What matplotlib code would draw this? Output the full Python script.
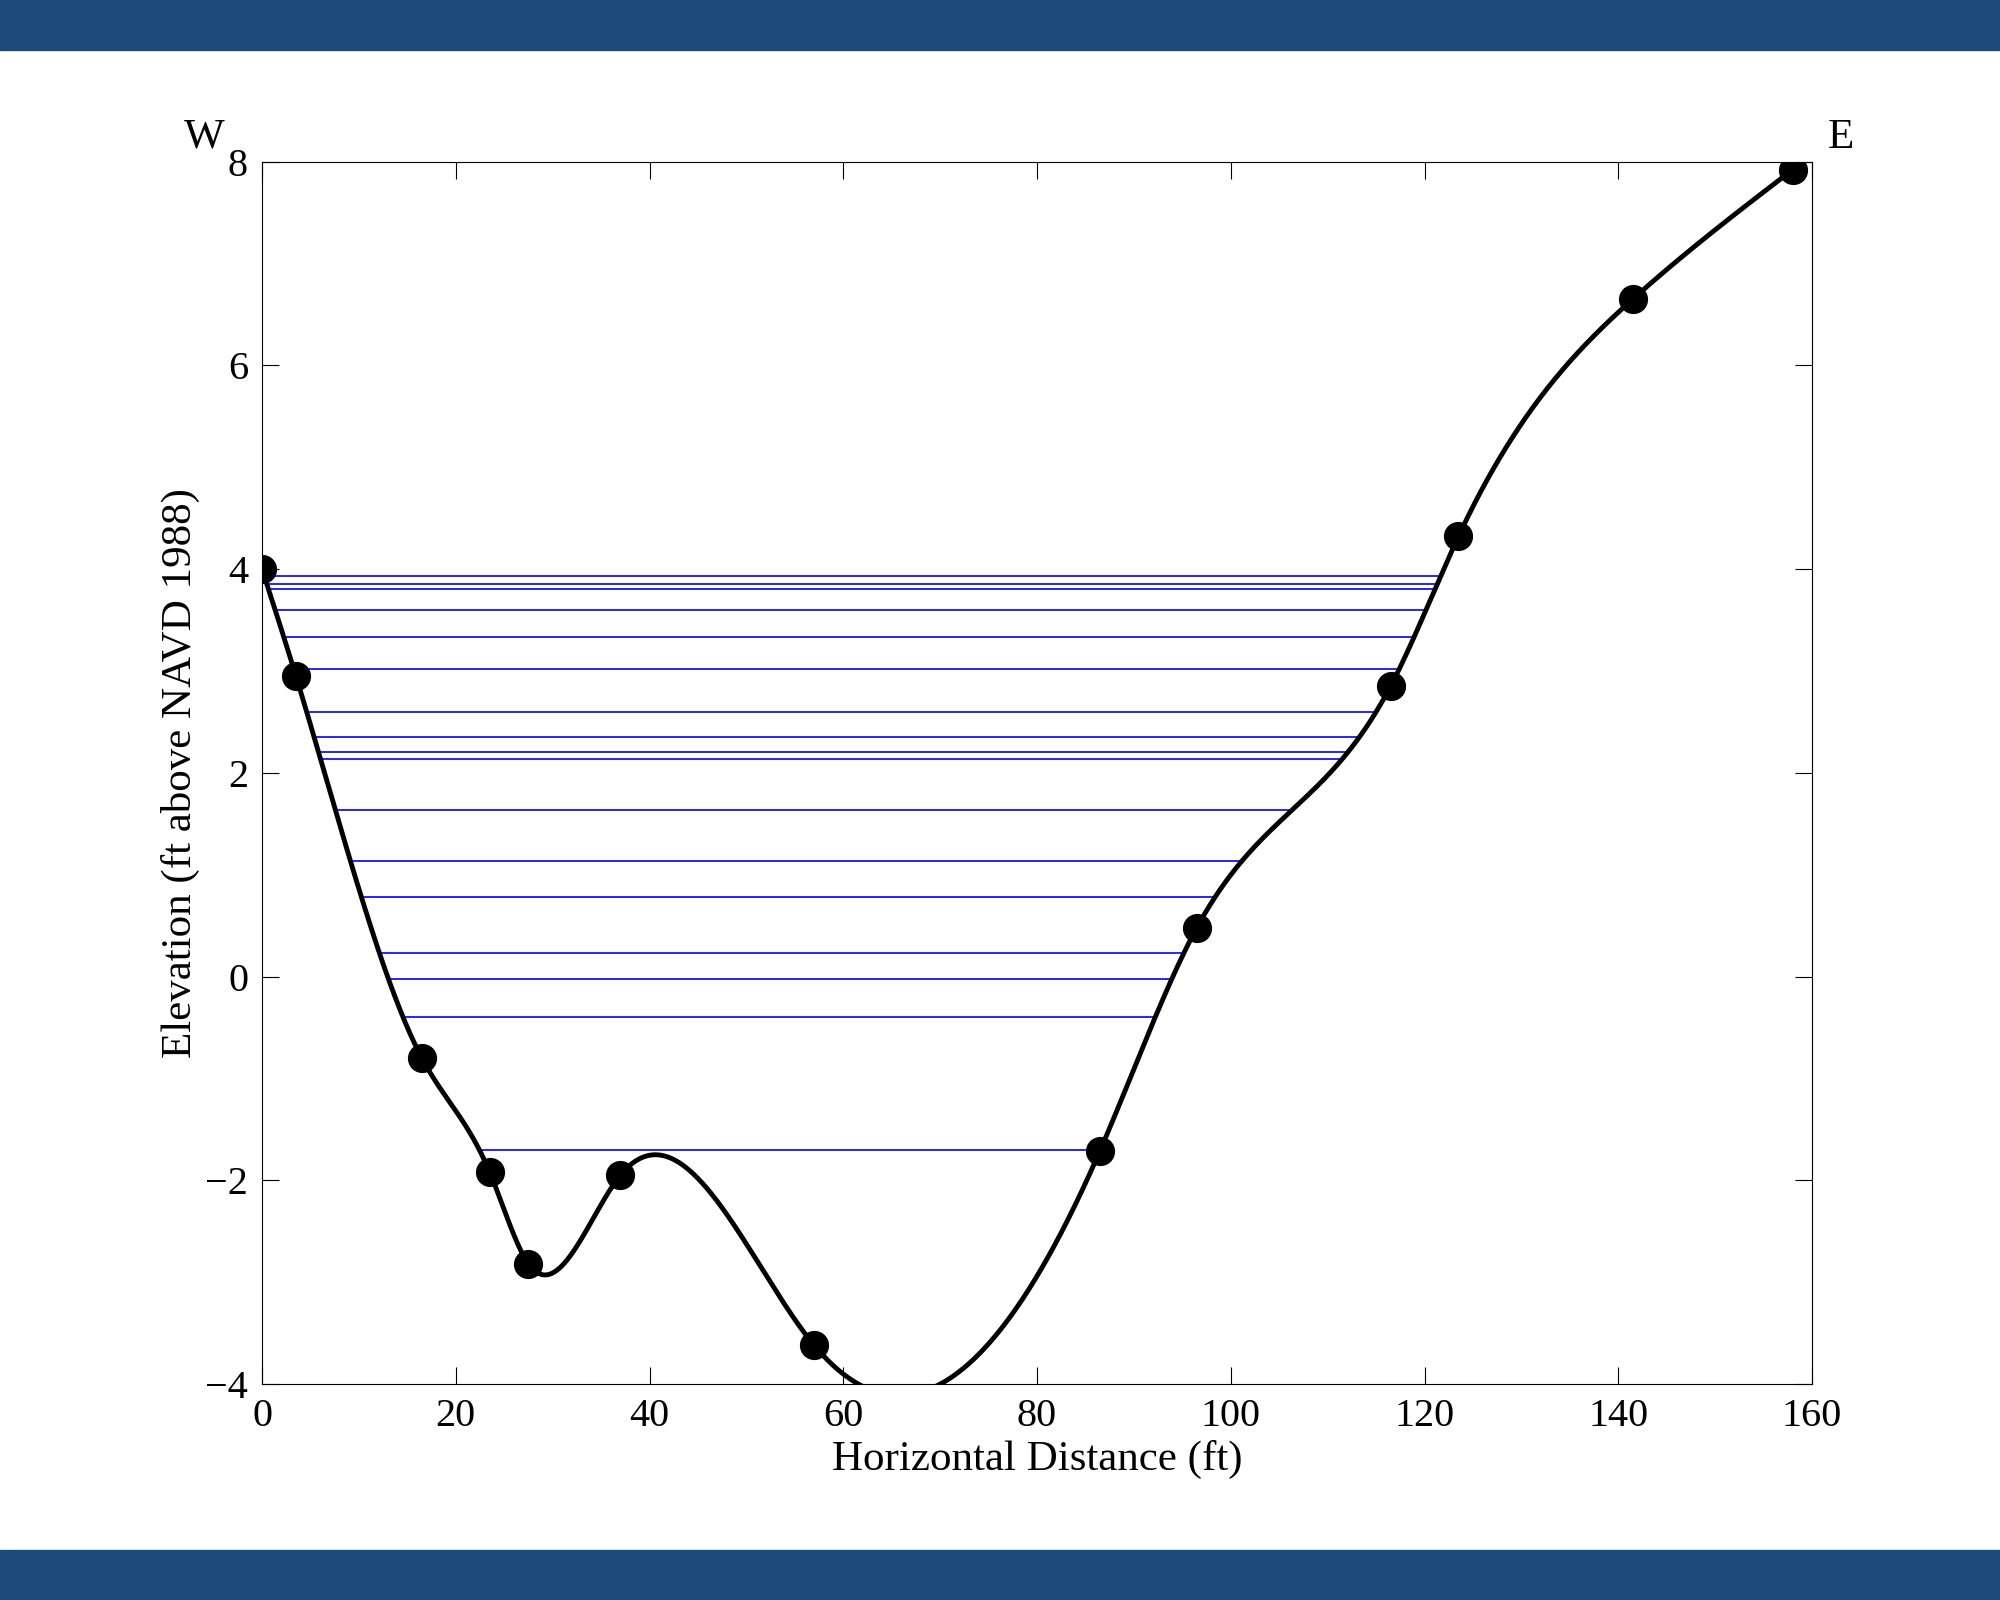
import numpy as np
import matplotlib.pyplot as plt

plt.rcParams['font.family'] = ['Liberation Serif', 'DejaVu Serif']

# surveyed points
dist = [0, 3.5, 16.5, 23.5, 27.5, 37, 57, 86.5, 96.5, 116.5, 123.5, 141.5, 158]
elev = [4.0, 2.95, -0.8, -1.92, -2.82, -1.95, -3.62, -1.71, 0.48, 2.85, 4.32, 6.65, 7.92]
# water levels
levels = [3.93, 3.85, 3.8, 3.6, 3.33, 3.02, 2.6, 2.35, 2.2, 2.14, 1.63, 1.13, 0.78,
          0.23, -0.02, -0.4, -1.7]


def natural_spline(x, y, xs):
    x = np.asarray(x, float); y = np.asarray(y, float)
    n = len(x)
    h = np.diff(x)
    A = np.zeros((n, n)); r = np.zeros(n)
    A[0, 0] = A[-1, -1] = 1
    for i in range(1, n - 1):
        A[i, i - 1] = h[i - 1]; A[i, i] = 2 * (h[i - 1] + h[i]); A[i, i + 1] = h[i]
        r[i] = 6 * ((y[i + 1] - y[i]) / h[i] - (y[i] - y[i - 1]) / h[i - 1])
    m = np.linalg.solve(A, r)
    idx = np.clip(np.searchsorted(x, xs) - 1, 0, n - 2)
    t0 = x[idx]; t1 = x[idx + 1]; hh = h[idx]
    return (m[idx] * (t1 - xs) ** 3 / (6 * hh) + m[idx + 1] * (xs - t0) ** 3 / (6 * hh)
            + (y[idx] / hh - m[idx] * hh / 6) * (t1 - xs)
            + (y[idx + 1] / hh - m[idx + 1] * hh / 6) * (xs - t0))


xs = np.linspace(dist[0], dist[-1], 4000)
ys = natural_spline(dist, elev, xs)

fig = plt.figure(figsize=(20, 16), dpi=100)
band = '#1f4a7c'
fig.patches.append(plt.Rectangle((0, 0.969), 1, 0.031, transform=fig.transFigure, color=band))
fig.patches.append(plt.Rectangle((0, 0), 1, 0.031, transform=fig.transFigure, color=band))
ax = fig.add_axes([0.131, 0.135, 0.775, 0.764])

for h in levels:
    below = np.where(ys < h)[0]
    xl, xr = xs[below[0]], xs[below[-1]]
    ax.plot([xl, xr], [h, h], color='blue', lw=1.2)

ax.plot(xs, ys, color='black', lw=3.5)
ax.plot(dist, elev, 'o', color='black', ms=20)

ax.set_xlim(0, 160)
ax.set_ylim(-4, 8)
ax.set_xticks(range(0, 161, 20))
ax.set_yticks(range(-4, 9, 2))
ax.tick_params(direction='in', top=True, right=True, labelsize=29, length=12, pad=10)
ax.set_xlabel('Horizontal Distance (ft)', fontsize=31)
ax.set_ylabel('Elevation (ft above NAVD 1988)', fontsize=31)
ax.text(-6, 8.05, 'W', fontsize=31, ha='center', va='bottom')
ax.text(163, 8.05, 'E', fontsize=31, ha='center', va='bottom')

fig.savefig('out.png')
